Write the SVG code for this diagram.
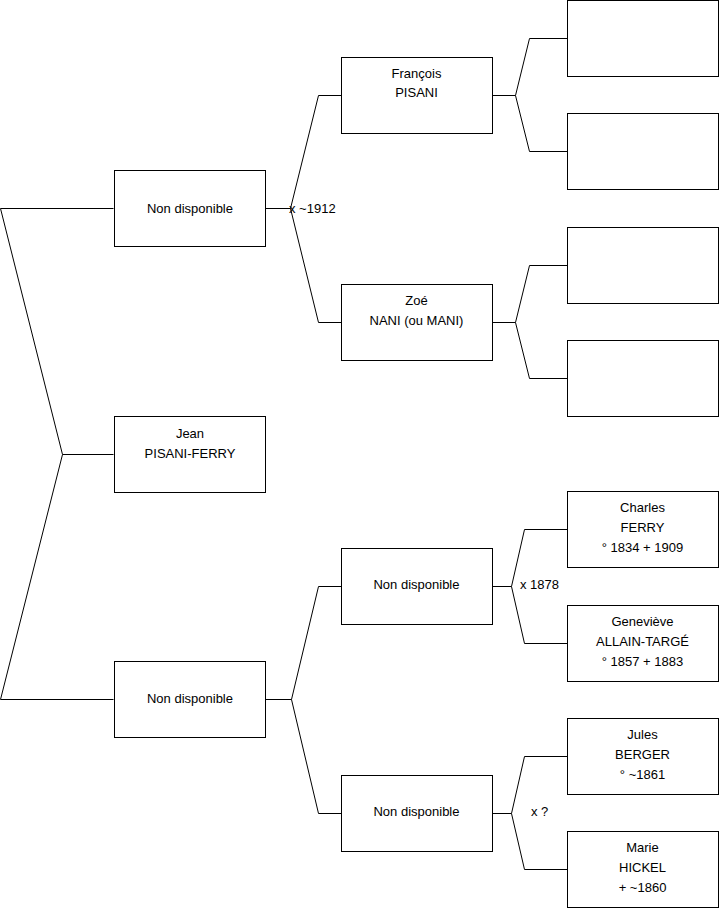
<svg xmlns="http://www.w3.org/2000/svg" width="719" height="908" viewBox="0 0 719 908">
<style>
.b{fill:#fff;stroke:#000;stroke-width:1}
.c{fill:none;stroke:#000;stroke-width:1}
text{font-family:"Liberation Sans",Arial,sans-serif;font-size:13px;fill:#000}
.m{text-anchor:middle}
</style>
<rect width="719" height="908" fill="#fff"/>
<g id="connectors">
<path class="c" d="M0.5,208.5H113.5M62.5,454.5H113.5M0.5,699.5H113.5M0.5,208.5L62.5,454.5L0.5,699.5"/>
<path class="c" d="M265.5,208.5H290.5M318.5,95.5L290.5,208.5L318.5,322.5M318.5,95.5H341M318.5,322.5H341"/>
<path class="c" d="M265.5,699.5H291.5M318.5,586.5L291.5,699.5L318.5,813.5M318.5,586.5H341M318.5,813.5H341"/>
<path class="c" d="M492.5,95.5H515.5M529.5,38.5L515.5,95.5L529.5,151.5M529.5,38.5H567M529.5,151.5H567"/>
<path class="c" d="M492.5,322.5H515.5M529.5,265.5L515.5,322.5L529.5,378.5M529.5,265.5H567M529.5,378.5H567"/>
<path class="c" d="M492.5,586.5H511.5M524.5,529.5L511.5,586.5L524.5,643.5M524.5,529.5H567M524.5,643.5H567"/>
<path class="c" d="M492.5,813.5H511.5M524.5,756.5L511.5,813.5L524.5,869.5M524.5,756.5H567M524.5,869.5H567"/>
<text x="289" y="212.5">x ~1912</text>
<text x="520" y="589">x 1878</text>
<text x="531" y="815.5">x ?</text>
</g>
<g id="n1"><rect class="b" x="114.5" y="170.5" width="151" height="76"/><text class="m" x="190" y="212.5">Non disponible</text></g>
<g id="n0"><rect class="b" x="114.5" y="416.5" width="151" height="76"/><text class="m" x="190" y="437.5">Jean</text><text class="m" x="190" y="457.5">PISANI-FERRY</text></g>
<g id="n2"><rect class="b" x="114.5" y="661.5" width="151" height="76"/><text class="m" x="190" y="702.5">Non disponible</text></g>
<g id="n3"><rect class="b" x="341.5" y="57.5" width="151" height="76"/><text class="m" x="416.5" y="78">François</text><text class="m" x="416.5" y="97">PISANI</text></g>
<g id="n4"><rect class="b" x="341.5" y="284.5" width="151" height="76"/><text class="m" x="416.5" y="304.5">Zoé</text><text class="m" x="416.5" y="324.5">NANI (ou MANI)</text></g>
<g id="n5"><rect class="b" x="341.5" y="548.5" width="151" height="76"/><text class="m" x="416.5" y="589">Non disponible</text></g>
<g id="n6"><rect class="b" x="341.5" y="775.5" width="151" height="76"/><text class="m" x="416.5" y="816">Non disponible</text></g>
<g id="n7"><rect class="b" x="567.5" y="0.5" width="151" height="76"/></g>
<g id="n8"><rect class="b" x="567.5" y="113.5" width="151" height="76"/></g>
<g id="n9"><rect class="b" x="567.5" y="227.5" width="151" height="76"/></g>
<g id="n10"><rect class="b" x="567.5" y="340.5" width="151" height="76"/></g>
<g id="n11"><rect class="b" x="567.5" y="491.5" width="151" height="76"/><text class="m" x="642.5" y="511.5">Charles</text><text class="m" x="642.5" y="531.5">FERRY</text><text class="m" x="642.5" y="551.5">° 1834 + 1909</text></g>
<g id="n12"><rect class="b" x="567.5" y="605.5" width="151" height="76"/><text class="m" x="642.5" y="625.5">Geneviève</text><text class="m" x="642.5" y="645.5">ALLAIN-TARGÉ</text><text class="m" x="642.5" y="665.5">° 1857 + 1883</text></g>
<g id="n13"><rect class="b" x="567.5" y="718.5" width="151" height="76"/><text class="m" x="642.5" y="738.5">Jules</text><text class="m" x="642.5" y="758.5">BERGER</text><text class="m" x="642.5" y="778.5">° ~1861</text></g>
<g id="n14"><rect class="b" x="567.5" y="831.5" width="151" height="76"/><text class="m" x="642.5" y="851.5">Marie</text><text class="m" x="642.5" y="871.5">HICKEL</text><text class="m" x="642.5" y="891.5">+ ~1860</text></g>
</svg>
